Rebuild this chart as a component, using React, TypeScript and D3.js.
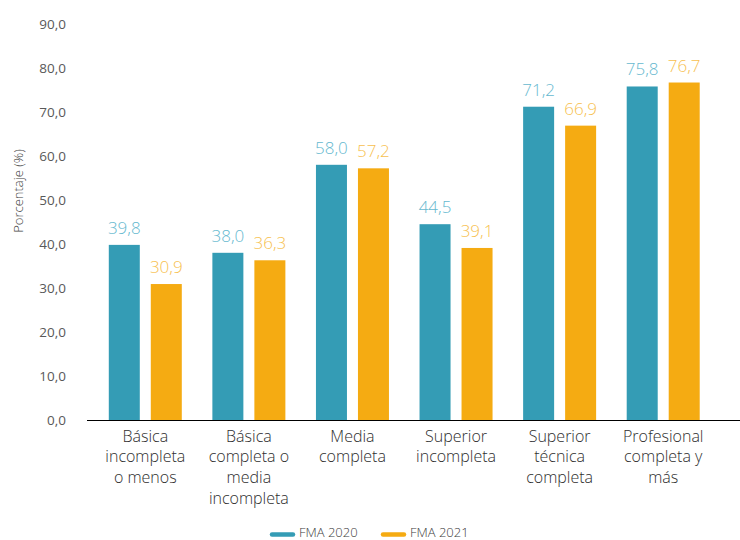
import React from "react";
import * as d3 from "d3";

const categories: string[][] = [
  ["Básica", "incompleta", "o menos"],
  ["Básica", "completa o", "media", "incompleta"],
  ["Media", "completa"],
  ["Superior", "incompleta"],
  ["Superior", "técnica", "completa"],
  ["Profesional", "completa y", "más"],
];
const fma2020 = [39.8, 38.0, 58.0, 44.5, 71.2, 75.8];
const fma2021 = [30.9, 36.3, 57.2, 39.1, 66.9, 76.7];
const seriesNames = ["FMA 2020", "FMA 2021"];
const yTicks = [0, 10, 20, 30, 40, 50, 60, 70, 80, 90];

const barColors = ["#349cb5", "#f5ab12"];
const labelColors = ["#66b9cf", "#f7bf4f"];
const font = "'Open Sans', 'Noto Sans', sans-serif";

export default function App() {
  const W = 740, H = 540;
  const x0 = d3.scaleBand<number>().domain(d3.range(categories.length)).range([93.5, 715]).paddingInner(0).paddingOuter(0);
  const y = d3.scaleLinear().domain([0, 90]).range([420, 24]);
  const bw = 31, gap = 11;
  const fmt = (v: number) => v.toFixed(1).replace(".", ",");
  const series = [fma2020, fma2021];
  return (
    <svg width={W} height={H} style={{ position: "absolute", left: 0, top: 0, fontFamily: font }}>
      <rect width={W} height={H} fill="#fff" />
      {yTicks.map((t) => (
        <text key={t} x={66} y={y(t)} dy="0.35em" textAnchor="end" fontSize={13.5} fontWeight={400} fill="#595959">
          {fmt(t)}
        </text>
      ))}
      <text transform={`translate(23,191) rotate(-90)`} textAnchor="middle" fontSize={13} fontWeight={300} fill="#404040">
        Porcentaje (%)
      </text>
      {categories.map((c, i) => {
        const cx = (x0(i) as number) + x0.bandwidth() / 2;
        return (
          <g key={i}>
            {series.map((s, k) => {
              const bx = k === 0 ? cx - gap / 2 - bw : cx + gap / 2;
              return (
                <g key={k}>
                  <rect x={bx} y={y(s[i])} width={bw} height={y(0) - y(s[i])} fill={barColors[k]} />
                  <text x={bx + bw / 2} y={y(s[i]) - 11} textAnchor="middle" fontSize={17} fontWeight={300} fill={labelColors[k]}>
                    {fmt(s[i])}
                  </text>
                </g>
              );
            })}
            {c.map((line, j) => (
              <text key={j} x={cx} y={436 + j * 20.7} dy="0.35em" textAnchor="middle" fontSize={16} fontWeight={300} fill="#2e2e2e">
                {line}
              </text>
            ))}
          </g>
        );
      })}
      <line x1={87} x2={740} y1={420.5} y2={420.5} stroke="#000" strokeWidth={1} />
      {seriesNames.map((n, k) => {
        const lx = k === 0 ? 272 : 383;
        return (
          <g key={n}>
            <line x1={lx} x2={lx + 21} y1={534.5} y2={534.5} stroke={barColors[k]} strokeWidth={4.5} strokeLinecap="round" />
            <text x={lx + 27} y={532.5} dy="0.35em" fontSize={13} fontWeight={300} fill="#404040">
              {n}
            </text>
          </g>
        );
      })}
    </svg>
  );
}
